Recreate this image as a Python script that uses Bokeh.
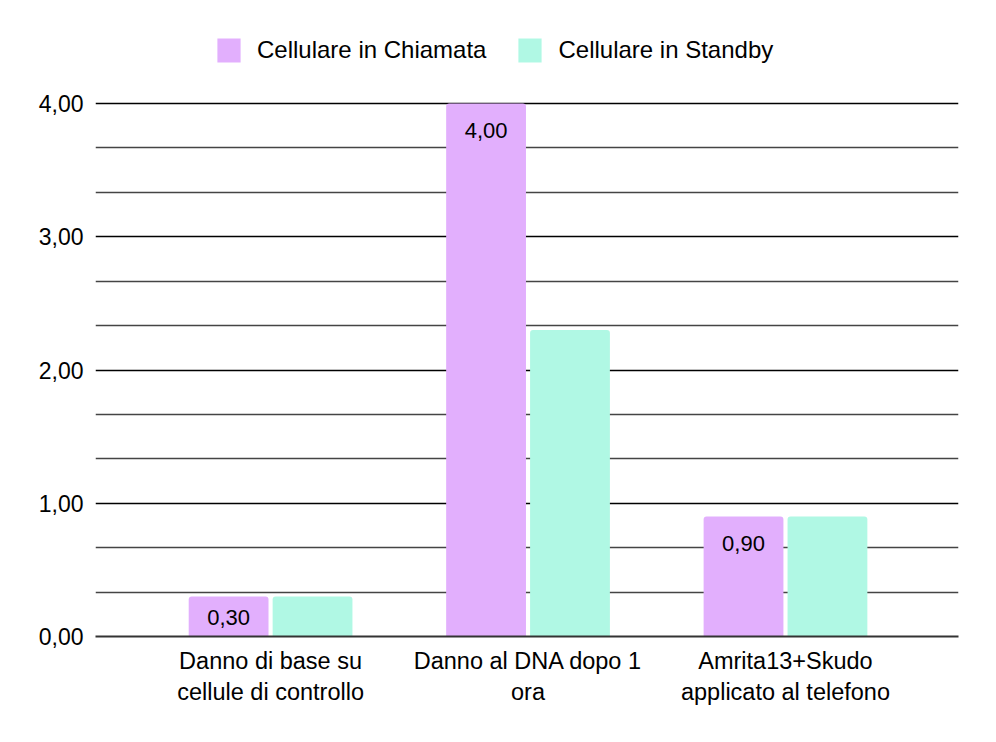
from bokeh.plotting import figure
from bokeh.models import FixedTicker, Range1d, Legend, LegendItem, ColumnDataSource
from bokeh.core.properties import value
from bokeh.embed import file_html
from bokeh.resources import INLINE

categories = ["Danno di base su\ncellule di controllo", "Danno al DNA dopo 1\nora", "Amrita13+Skudo\napplicato al telefono"]
series_names = ["Cellulare in Chiamata", "Cellulare in Standby"]
chiamata = [0.30, 4.00, 0.90]
standby = [0.30, 2.30, 0.90]
chiamata_labels = ["0,30", "4,00", "0,90"]
y_ticks = [0, 1, 2, 3, 4]
y_tick_labels = ["0,00", "1,00", "2,00", "3,00", "4,00"]

PURPLE = "#E2AFFD"
GREEN = "#B0F8E4"
FONT = "Liberation Sans"

# frame: top at 20px, bottom (value 0) at 636px, value 4 at 103px
frame_top, frame_bottom, y4_px = 20, 636, 103
px_per_unit = (frame_bottom - y4_px) / 4.0
y0 = 0.0
y1 = 4.0 + (y4_px - frame_top) / px_per_unit

p = figure(width=980, height=726, output_backend="svg", toolbar_location=None,
           x_range=Range1d(-0.68, 2.672), y_range=Range1d(y0, y1),
           min_border_left=95, min_border_right=22, min_border_top=frame_top,
           min_border_bottom=726 - frame_bottom)
p.outline_line_color = None
p.background_fill_color = "white"
p.border_fill_color = "white"

xs = list(range(len(categories)))
off = 0.163
bw = 0.31
src1 = ColumnDataSource(dict(x=[x - off for x in xs], top=chiamata, lab=chiamata_labels,
                             yo=[min(27, v * px_per_unit / 2 + 1) for v in chiamata]))
src2 = ColumnDataSource(dict(x=[x + off for x in xs], top=standby))

r1 = p.vbar(x="x", top="top", bottom=0, width=bw, source=src1, fill_color=PURPLE, line_color=None,
            border_radius=(3, 3, 0, 0))
r2 = p.vbar(x="x", top="top", bottom=0, width=bw, source=src2, fill_color=GREEN, line_color=None,
            border_radius=(3, 3, 0, 0))

p.text(x="x", y="top", text="lab", source=src1, y_offset="yo", text_align="center",
       text_baseline="middle", text_font=value(FONT), text_font_size="22px", text_color="#000000")

# axes
p.xaxis.ticker = FixedTicker(ticks=xs)
p.xaxis.major_label_overrides = {i: c for i, c in enumerate(categories)}
p.xaxis.major_label_text_font = FONT
p.xaxis.major_label_text_font_size = "23.5px"
p.xaxis.major_label_text_color = "#000000"
p.xaxis.major_tick_line_color = None
p.xaxis.major_tick_out = 0
p.xaxis.minor_tick_line_color = None
p.xaxis.minor_tick_out = 0
p.xaxis.axis_line_color = "#333333"
p.xaxis.axis_line_width = 2
p.xaxis.major_label_standoff = 11

minor = [t + k / 3 for t in y_ticks[:-1] for k in (1, 2)]
p.yaxis.ticker = FixedTicker(ticks=y_ticks, minor_ticks=minor)
p.yaxis.major_label_overrides = {t: l for t, l in zip(y_ticks, y_tick_labels)}
p.yaxis.major_label_text_font = FONT
p.yaxis.major_label_text_font_size = "23px"
p.yaxis.major_label_text_color = "#000000"
p.yaxis.axis_line_color = None
p.yaxis.major_tick_line_color = None
p.yaxis.major_tick_out = 0
p.yaxis.minor_tick_line_color = None
p.yaxis.minor_tick_out = 0
p.yaxis.major_label_standoff = 12

p.xgrid.grid_line_color = None
p.ygrid.grid_line_color = "#000000"
p.ygrid.grid_line_width = 1.6
p.ygrid.minor_grid_line_color = "#444444"
p.ygrid.minor_grid_line_width = 1.4
p.ygrid.level = "underlay"

legend = Legend(items=[LegendItem(label=series_names[0], renderers=[r1]),
                       LegendItem(label=series_names[1], renderers=[r2])],
                orientation="horizontal", location=(119, 571),
                glyph_width=29, glyph_height=30, label_standoff=14, spacing=29,
                padding=0, margin=0, border_line_color=None, background_fill_alpha=0,
                label_text_font=FONT, label_text_font_size="24px", label_text_color="#000000")
p.add_layout(legend, "center")

open("out.html", "w").write(file_html(p, INLINE))
